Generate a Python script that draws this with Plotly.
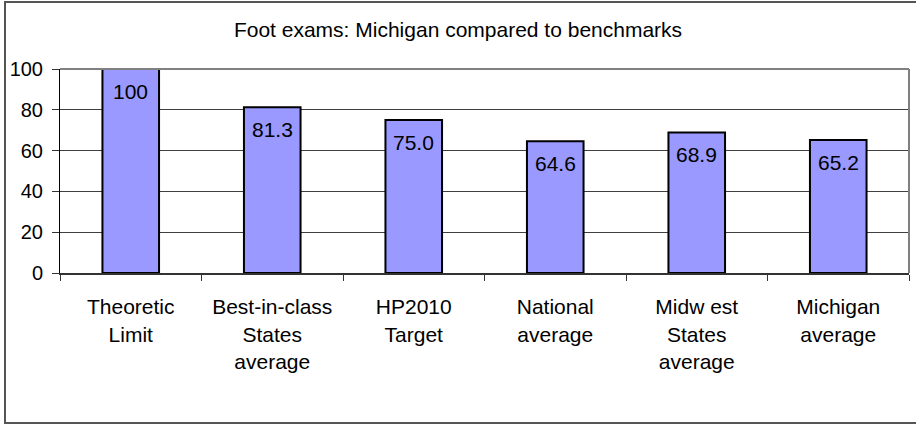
import plotly.graph_objects as go

categories = ["Theoretic<br>Limit", "Best-in-class<br>States<br>average", "HP2010<br>Target",
              "National<br>average", "Midw est<br>States<br>average", "Michigan<br>average"]
values = [100, 81.3, 75.0, 64.6, 68.9, 65.2]
value_labels = ["100", "81.3", "75.0", "64.6", "68.9", "65.2"]

W, H = 916, 425
L, R, T, B = 60, 7, 69, 152
pw, ph = W - L - R, H - T - B

font = "Liberation Sans, Arial, sans-serif"
fs = 21

fig = go.Figure(go.Bar(
    x=categories, y=values,
    marker=dict(color="#9999FF", line=dict(color="black", width=2)),
    width=0.4, hoverinfo="x+y",
))

# value labels sit just under the top of each bar
for cat, val, lab in zip(categories, values, value_labels):
    fig.add_annotation(x=cat, y=val, text=lab, showarrow=False,
                       yanchor="top", yshift=-9,
                       font=dict(family=font, size=fs, color="black"))

def px_x(p):
    return (p - L) / pw

def px_y(p):
    return (H - B - p) / ph

fig.update_layout(
    width=W, height=H,
    margin=dict(l=L, r=R, t=T, b=B, autoexpand=False),
    paper_bgcolor="white", plot_bgcolor="white",
    showlegend=False,
    title=dict(text="Foot exams: Michigan compared to benchmarks",
               x=0.5, xanchor="center", y=1 - 30 / H, yanchor="middle",
               font=dict(family=font, size=fs, color="black")),
    font=dict(family=font, size=fs, color="black"),
    xaxis=dict(
        type="category", tickson="boundaries", ticks="outside", ticklen=6,
        tickcolor="#333", showline=True, linecolor="#333", linewidth=2,
        showgrid=False, tickfont=dict(size=fs), automargin=False,
        ticklabelstandoff=14,
    ),
    yaxis=dict(
        range=[0, 100], tickvals=[0, 20, 40, 60, 80, 100],
        ticks="outside", ticklen=7, tickcolor="#333",
        showline=True, linecolor="black", linewidth=1,
        showgrid=True, gridcolor="#404040", gridwidth=1,
        zeroline=False, tickfont=dict(size=20), ticklabelstandoff=5,
        automargin=False,
    ),
    shapes=[
        # gray plot-area border on top and right
        dict(type="line", xref="paper", yref="paper", x0=0, x1=1, y0=1, y1=1,
             line=dict(color="#808080", width=2), layer="above"),
        dict(type="line", xref="paper", yref="paper", x0=1, x1=1, y0=0, y1=1,
             line=dict(color="#808080", width=2), layer="above"),
        # outer chart frame
        dict(type="rect", xref="paper", yref="paper",
             x0=px_x(5), x1=px_x(930), y0=px_y(423), y1=px_y(2),
             line=dict(color="#555", width=2)),
    ],
)

fig.write_html("out.html", config={"displayModeBar": False},
               post_script="document.body.style.margin='0';")
